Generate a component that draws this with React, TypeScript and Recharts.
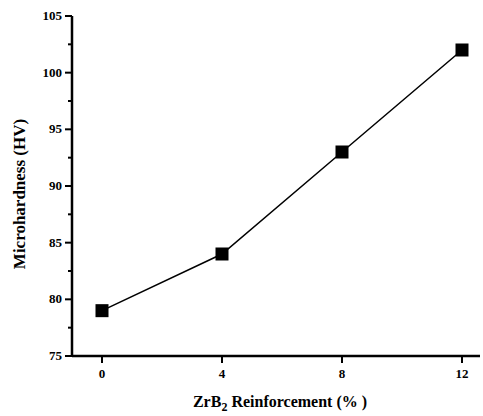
import { LineChart, Line, XAxis, YAxis, Label } from "recharts"

const reinforcement = [0, 4, 8, 12]
const hardness = [79, 84, 93, 102]
const xTicks = [0, 4, 8, 12]
const yMajor = [75, 80, 85, 90, 95, 100, 105]
const yMinor = [77.5, 82.5, 87.5, 92.5, 97.5, 102.5]

const data = reinforcement.map((r, i) => ({ r, hv: hardness[i] }))

const FONT = "'Liberation Serif', 'Times New Roman', serif"

// y ticks: majors get a label, minors just a short tick
function YTick(props: any) {
  const { x, y, payload } = props
  const minor = yMinor.includes(payload.value)
  return (
    <g>
      <path d={`M${minor ? x + 3 : x},${y}H${x + 7}`} stroke="#000" strokeWidth={2} fill="none" />
      {!minor && (
        <text x={x - 3} y={y} dy={4} textAnchor="end" fontFamily={FONT} fontWeight="bold" fontSize={13} fill="#000">
          {payload.value}
        </text>
      )}
    </g>
  )
}

function XTick(props: any) {
  const { x, y, payload } = props
  return (
    <text x={x} y={y + 13} textAnchor="middle" fontFamily={FONT} fontWeight="bold" fontSize={13} fill="#000">
      {payload.value}
    </text>
  )
}

function Square(props: any) {
  const { cx, cy } = props
  if (cx == null || cy == null) return null
  return <rect x={cx - 6.5} y={cy - 6.5} width={13} height={13} fill="#000" />
}

function XTitle(props: any) {
  const { viewBox } = props
  const cx = viewBox.x + viewBox.width / 2 + 4
  return (
    <text x={cx} y={viewBox.y + 51} textAnchor="middle" fontFamily={FONT} fontWeight="bold" fontSize={16} fill="#000">
      ZrB<tspan fontSize={12} dy={4}>2</tspan>
      <tspan dy={-4}> Reinforcement (% )</tspan>
    </text>
  )
}

function YTitle() {
  return (
    <text x={0} y={0} transform="translate(25, 194) rotate(-90)" textAnchor="middle" fontFamily={FONT} fontWeight="bold" fontSize={17} fill="#000">
      Microhardness (HV)
    </text>
  )
}

export default function App() {
  return (
    <div style={{ position: "absolute", left: 0, top: 0, background: "#fff" }}>
      <LineChart width={483} height={416} data={data} margin={{ top: 16, right: 3, bottom: 0, left: 0 }}>
        <XAxis
          dataKey="r"
          type="number"
          domain={[-1, 12.6]}
          ticks={xTicks}
          tickSize={7}
          tickLine={{ stroke: "#000", strokeWidth: 2 }}
          tick={<XTick />}
          axisLine={{ stroke: "#000", strokeWidth: 2.5 }}
          height={60}
          allowDataOverflow
        >
          <Label content={<XTitle />} />
        </XAxis>
        <YAxis
          type="number"
          domain={[75, 105]}
          ticks={[...yMajor, ...yMinor].sort((a, b) => a - b)}
          tickSize={7}
          tickMargin={0}
          tickLine={false}
          tick={<YTick />}
          axisLine={{ stroke: "#000", strokeWidth: 2.5 }}
          width={72}
          interval={0}
          allowDataOverflow
        >
          <Label content={<YTitle />} />
        </YAxis>
        <Line
          dataKey="hv"
          stroke="#000"
          strokeWidth={1.5}
          dot={<Square />}
          activeDot={false}
          isAnimationActive={false}
        />
      </LineChart>
    </div>
  )
}
